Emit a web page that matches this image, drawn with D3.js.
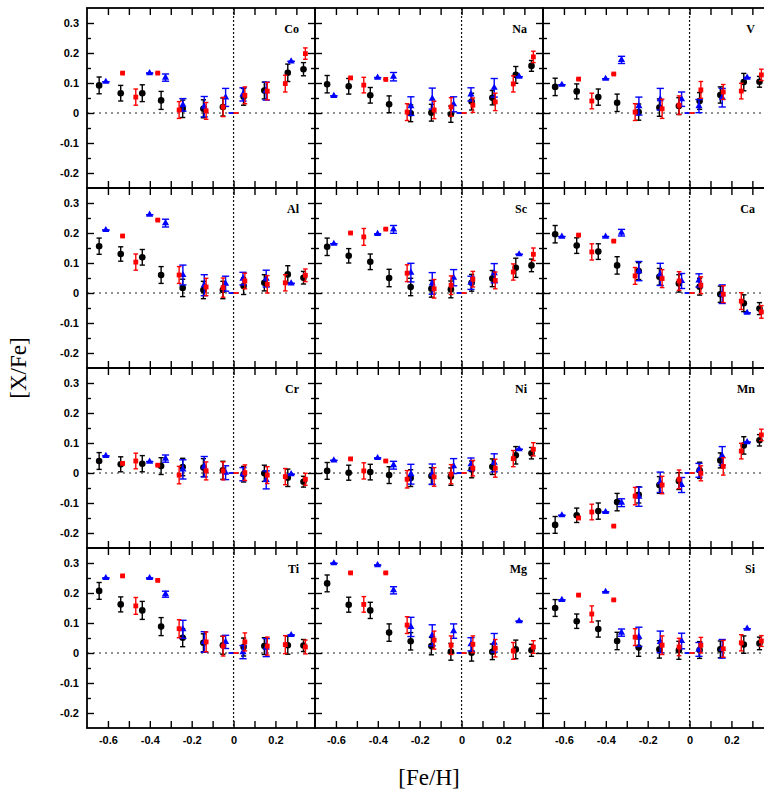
<!DOCTYPE html>
<html><head><meta charset="utf-8">
<script src="https://cdn.jsdelivr.net/npm/d3@7"></script>
<style>body{margin:0;background:#fff}</style>
</head><body>
<svg id="c" width="764" height="796"></svg>
<script>
// Panels in reading order
const elements = ["Co","Na","V","Al","Sc","Ca","Cr","Ni","Mn","Ti","Mg","Si"];

// [Fe/H] bin positions of each sample (shared by all panels)
const blackX = [-0.642,-0.539,-0.436,-0.346,-0.243,-0.144,-0.051,0.048,0.147,0.259,0.334];
const redX   = [-0.530,-0.467,-0.362,-0.260,-0.131,-0.050,0.054,0.161,0.247,0.343];
const blueX  = [-0.610,-0.401,-0.325,-0.242,-0.140,-0.038,0.045,0.156,0.275];
const refPoint = [0, 0];

// [X/Fe] values (one row per element, order as in `elements`)
const blackY = [
 [0.092,0.066,0.066,0.042,0.014,0.014,0.020,0.054,0.075,0.134,0.146],
 [0.096,0.089,0.059,0.029,-0.001,0.001,-0.004,0.038,0.051,0.127,0.157],
 [0.087,0.072,0.053,0.034,0.003,0.018,0.023,0.040,0.060,0.103,0.104],
 [0.156,0.130,0.119,0.060,0.017,0.010,0.010,0.023,0.034,0.062,0.051],
 [0.154,0.124,0.104,0.050,0.020,0.014,0.012,0.034,0.048,0.084,0.092],
 [0.196,0.158,0.138,0.092,0.073,0.054,0.032,0.021,-0.004,-0.034,-0.052],
 [0.040,0.029,0.031,0.023,0.020,0.018,0.009,-0.004,-0.001,-0.016,-0.029],
 [0.007,0.001,0.003,-0.007,-0.017,-0.010,-0.012,0.012,0.021,0.059,0.066],
 [-0.173,-0.141,-0.127,-0.097,-0.073,-0.040,-0.027,0.009,0.042,0.092,0.109],
 [0.207,0.162,0.142,0.088,0.051,0.034,0.026,0.020,0.023,0.026,0.025],
 [0.232,0.161,0.142,0.068,0.039,0.023,0.004,0.001,0.004,0.012,0.009],
 [0.150,0.106,0.080,0.040,0.018,0.012,0.009,0.010,0.012,0.028,0.032]
];
const blackErr = [
 [0.028,0.026,0.028,0.030,0.029,0.030,0.030,0.028,0.028,0.029,0.022],
 [0.029,0.026,0.026,0.028,0.028,0.028,0.027,0.028,0.024,0.028,0.018],
 [0.029,0.025,0.027,0.029,0.027,0.029,0.028,0.028,0.027,0.029,0.018],
 [0.027,0.024,0.026,0.028,0.029,0.029,0.029,0.028,0.027,0.029,0.021],
 [0.029,0.024,0.026,0.029,0.029,0.028,0.028,0.028,0.027,0.032,0.021],
 [0.029,0.026,0.026,0.029,0.028,0.028,0.029,0.028,0.027,0.028,0.020],
 [0.028,0.025,0.027,0.028,0.029,0.030,0.030,0.026,0.027,0.029,0.018],
 [0.028,0.025,0.026,0.028,0.028,0.028,0.029,0.028,0.026,0.029,0.019],
 [0.028,0.024,0.027,0.029,0.027,0.028,0.028,0.027,0.025,0.029,0.019],
 [0.028,0.025,0.030,0.030,0.030,0.030,0.030,0.030,0.028,0.030,0.020],
 [0.028,0.025,0.027,0.029,0.029,0.029,0.028,0.028,0.026,0.031,0.020],
 [0.028,0.024,0.027,0.029,0.029,0.029,0.030,0.028,0.028,0.029,0.021]
];
const redY = [
 [0.133,0.053,0.133,0.010,0.007,0.020,0.059,0.073,0.098,0.198],
 [0.117,0.093,0.112,0.003,0.010,0.020,0.026,0.037,0.097,0.187],
 [0.113,0.040,0.130,0.003,0.014,0.026,0.077,0.070,0.073,0.127],
 [0.190,0.103,0.243,0.060,0.020,0.018,0.040,0.029,0.034,0.059],
 [0.200,0.187,0.213,0.066,0.014,0.026,0.046,0.042,0.070,0.129],
 [0.193,0.137,0.173,0.057,0.048,0.040,0.026,-0.004,-0.027,-0.063],
 [0.032,0.040,0.026,-0.007,0.007,0.007,0.001,-0.007,-0.012,-0.021],
 [0.047,0.007,0.040,-0.021,-0.013,-0.004,0.016,0.016,0.048,0.079],
 [-0.150,-0.130,-0.177,-0.077,-0.040,-0.021,-0.001,0.022,0.073,0.127],
 [0.257,0.157,0.242,0.081,0.037,0.023,0.037,0.023,0.028,0.020],
 [0.267,0.162,0.267,0.093,0.043,0.026,0.029,0.016,0.007,0.020],
 [0.193,0.130,0.177,0.053,0.026,0.020,0.026,0.014,0.034,0.040]
];
const redErr = [
 [0,0.027,0,0.028,0.028,0.032,0.028,0.029,0.028,0.019],
 [0,0.026,0,0.028,0.029,0.031,0.024,0.029,0.027,0.019],
 [0,0.026,0,0.028,0.032,0.031,0.028,0.025,0.026,0.019],
 [0,0.027,0,0.028,0.029,0.032,0.026,0.029,0.027,0.021],
 [0,0.028,0,0.028,0.031,0.031,0.026,0.028,0.027,0.021],
 [0,0.027,0,0.028,0.030,0.031,0.028,0.028,0.028,0.021],
 [0,0.026,0,0.029,0.030,0.030,0.026,0.028,0.027,0.020],
 [0,0.027,0,0.029,0.031,0.032,0.026,0.030,0.027,0.022],
 [0,0.026,0,0.029,0.029,0.031,0.025,0.029,0.026,0.019],
 [0,0.028,0,0.030,0.033,0.033,0.030,0.030,0.030,0.023],
 [0,0.026,0,0.028,0.030,0.031,0.028,0.029,0.028,0.021],
 [0,0.027,0,0.028,0.031,0.029,0.026,0.028,0.027,0.018]
];
const blueY = [
 [0.104,0.133,0.118,0.027,0.021,0.052,0.062,0.073,0.172],
 [0.057,0.118,0.121,0.023,0.048,0.029,0.062,0.084,0.121],
 [0.094,0.114,0.177,0.023,0.046,0.046,0.023,0.051,0.118],
 [0.210,0.261,0.233,0.060,0.026,0.031,0.048,0.048,0.032],
 [0.164,0.197,0.212,0.068,0.032,0.051,0.034,0.066,0.129],
 [0.188,0.188,0.201,0.073,0.062,0.040,0.042,-0.004,-0.066],
 [0.057,0.038,0.048,0.012,0.021,0.001,-0.004,-0.023,-0.004],
 [0.042,0.050,0.026,-0.004,-0.004,0.023,0.029,0.034,0.079],
 [-0.141,-0.130,-0.099,-0.079,-0.031,-0.040,0.009,0.057,0.103],
 [0.250,0.250,0.196,0.079,0.037,0.037,0.003,0.018,0.060],
 [0.299,0.293,0.209,0.087,0.059,0.073,0.029,0.034,0.106],
 [0.177,0.204,0.068,0.054,0.037,0.040,0.012,0.014,0.081]
];
const blueErr = [
 [0,0,0.012,0.021,0.034,0.030,0.022,0.030,0],
 [0,0,0.014,0.031,0.035,0.025,0.022,0.031,0],
 [0,0,0.012,0.030,0.036,0.024,0.022,0.031,0],
 [0,0,0.013,0.033,0.035,0.025,0.021,0.028,0],
 [0,0,0.013,0.031,0.036,0.027,0.022,0.032,0],
 [0,0,0.011,0.032,0.037,0.025,0.022,0.031,0],
 [0,0,0.012,0.032,0.034,0.023,0.022,0.030,0],
 [0,0,0.013,0.033,0.034,0.025,0.021,0.030,0],
 [0,0,0.013,0.032,0.034,0.025,0.023,0.031,0],
 [0,0,0.010,0.030,0.034,0.022,0.022,0.030,0],
 [0,0,0.012,0.032,0.035,0.024,0.022,0.031,0],
 [0,0,0.012,0.032,0.036,0.026,0.023,0.031,0]
];

const xTicks = [-0.6,-0.5,-0.4,-0.3,-0.2,-0.1,0,0.1,0.2,0.3];
const xTickLabels = [-0.6,-0.4,-0.2,0,0.2];
const yMajor = [-0.2,-0.1,0,0.1,0.2,0.3];
const yMinor = [-0.15,-0.05,0.05,0.15,0.25];

// ---- layout ----
const panelW = 228, panelH = 180, left0 = 87, top0 = 8;
const svg = d3.select("#c");
const x = d3.scaleLinear().domain([-0.7, 0.389]).range([0, panelW]);
const y = d3.scaleLinear().domain([-0.25, 0.35]).range([panelH, 0]);
const fmt = d => d === 0 ? "0" : d3.format(".1f")(d).replace("\u2212", "-");

function series(g, xs, ys, es, color, cap, marker) {
  const s = g.append("g");
  xs.forEach((xv, k) => {
    const cx = x(xv), y1 = y(ys[k] - es[k]), y2 = y(ys[k] + es[k]);
    const eb = s.append("g").attr("stroke", color).attr("stroke-width", 1.4);
    if (es[k] > 0) eb.append("line").attr("x1", cx).attr("x2", cx).attr("y1", y1).attr("y2", y2);
    eb.append("line").attr("x1", cx - cap).attr("x2", cx + cap).attr("y1", y1).attr("y2", y1);
    eb.append("line").attr("x1", cx - cap).attr("x2", cx + cap).attr("y1", y2).attr("y2", y2);
  });
  xs.forEach((xv, k) => marker(s, x(xv), y(ys[k])));
}
const circle = (s, cx, cy) => s.append("circle").attr("cx", cx).attr("cy", cy).attr("r", 3.3).attr("fill", "#000");
const square = (s, cx, cy) => s.append("rect").attr("x", cx - 2.4).attr("y", cy - 2.4).attr("width", 4.8).attr("height", 4.8).attr("fill", "#f00");
const tri = (s, cx, cy) => s.append("path").attr("d", d3.symbol(d3.symbolTriangle, 22)()).attr("transform", `translate(${cx},${cy})`).attr("fill", "#00f");

elements.forEach((el, i) => {
  const col = i % 3, row = Math.floor(i / 3);
  const g = svg.append("g").attr("transform", `translate(${left0 + col * panelW},${top0 + row * panelH})`);

  g.append("line").attr("x1", 0).attr("x2", panelW).attr("y1", y(0)).attr("y2", y(0))
    .attr("stroke", "#222").attr("stroke-width", 1.2).attr("stroke-dasharray", "2,4");
  g.append("line").attr("x1", x(0)).attr("x2", x(0)).attr("y1", 0).attr("y2", panelH)
    .attr("stroke", "#111").attr("stroke-width", 1.2).attr("stroke-dasharray", "2,2");

  const tk = [];
  tk.push(g.append("g").call(d3.axisBottom(x).tickValues(xTicks).tickSize(7).tickFormat("")));
  tk.push(g.append("g").attr("transform", `translate(0,${panelH})`).call(d3.axisTop(x).tickValues(xTicks).tickSize(7).tickFormat("")));
  tk.push(g.append("g").call(d3.axisRight(y).tickValues(yMajor).tickSize(7).tickFormat("")));
  tk.push(g.append("g").call(d3.axisRight(y).tickValues(yMinor).tickSize(4).tickFormat("")));
  tk.push(g.append("g").attr("transform", `translate(${panelW},0)`).call(d3.axisLeft(y).tickValues(yMajor).tickSize(7).tickFormat("")));
  tk.push(g.append("g").attr("transform", `translate(${panelW},0)`).call(d3.axisLeft(y).tickValues(yMinor).tickSize(4).tickFormat("")));
  tk.forEach(a => { a.select(".domain").remove(); a.selectAll("line").attr("stroke", "#000").attr("stroke-width", 1.4); });

  // reference (solar) point dash
  g.append("line").attr("x1", x(refPoint[0]) - 5).attr("x2", x(refPoint[0])).attr("y1", y(refPoint[1])).attr("y2", y(refPoint[1]))
    .attr("stroke", "#00f").attr("stroke-width", 1.8);
  g.append("line").attr("x1", x(refPoint[0])).attr("x2", x(refPoint[0]) + 5).attr("y1", y(refPoint[1])).attr("y2", y(refPoint[1]))
    .attr("stroke", "#f00").attr("stroke-width", 1.8);

  series(g, blackX, blackY[i], blackErr[i], "#000", 2.6, circle);
  series(g, blueX, blueY[i], blueErr[i], "#00f", 3.6, tri);
  series(g, redX, redY[i], redErr[i], "#f00", 2.3, square);

  g.append("rect").attr("width", panelW).attr("height", panelH).attr("fill", "none")
    .attr("stroke", "#000").attr("stroke-width", 1.8);

  g.append("text").attr("x", panelW - 16).attr("y", 25).attr("text-anchor", "end")
    .attr("font-family", "'Liberation Serif', 'Times New Roman', serif").attr("font-weight", "bold")
    .attr("font-size", 12).text(el);

  if (col === 0) {
    const a = g.append("g").call(d3.axisLeft(y).tickValues(yMajor).tickSize(0).tickPadding(8).tickFormat(fmt));
    a.select(".domain").remove();
    a.selectAll("text").attr("font-family", "'Liberation Sans', Arial, sans-serif").attr("font-weight", "bold").attr("font-size", 11).attr("fill", "#000");
  }
  if (row === 3) {
    const a = g.append("g").attr("transform", `translate(0,${panelH})`)
      .call(d3.axisBottom(x).tickValues(xTickLabels).tickSize(0).tickPadding(8).tickFormat(fmt));
    a.select(".domain").remove();
    a.selectAll("text").attr("font-family", "'Liberation Sans', Arial, sans-serif").attr("font-weight", "bold").attr("font-size", 11).attr("fill", "#000");
  }
});

svg.append("text").attr("transform", "translate(26,368) rotate(-90)").attr("text-anchor", "middle")
  .attr("font-family", "'Liberation Serif', 'Times New Roman', serif").attr("font-size", 23).text("[X/Fe]");
svg.append("text").attr("x", 429).attr("y", 785).attr("text-anchor", "middle")
  .attr("font-family", "'Liberation Serif', 'Times New Roman', serif").attr("font-size", 23).text("[Fe/H]");
</script>
</body></html>
